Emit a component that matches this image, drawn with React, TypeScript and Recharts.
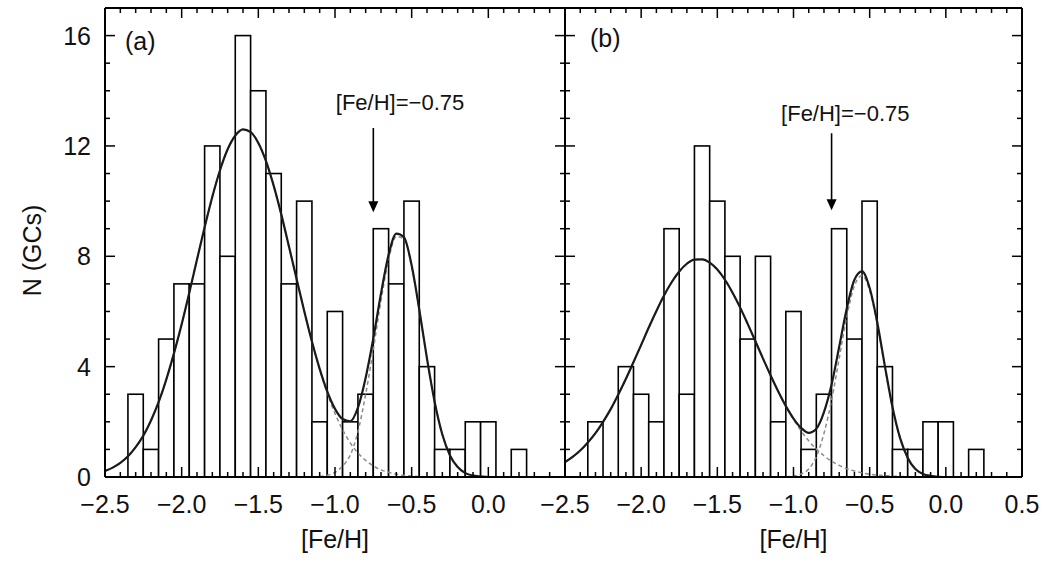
import React from 'react';
import { ComposedChart, Bar, Line, XAxis, YAxis, Label, ReferenceLine, ReferenceDot } from 'recharts';

const FONT = '"Liberation Sans", Arial, Helvetica, sans-serif';

// centres of the 0.1 dex histogram bins
const binCenters = [
  -2.3, -2.2, -2.1, -2.0, -1.9, -1.8, -1.7, -1.6, -1.5, -1.4, -1.3, -1.2, -1.1,
  -1.0, -0.9, -0.8, -0.7, -0.6, -0.5, -0.4, -0.3, -0.2, -0.1, 0.0, 0.1, 0.2,
];
const countsA = [3, 1, 5, 7, 7, 12, 8, 16, 14, 11, 7, 10, 2, 6, 2, 3, 9, 7, 10, 4, 1, 1, 2, 2, 0, 1];
const countsB = [2, 0, 4, 3, 2, 9, 3, 12, 10, 8, 5, 8, 2, 6, 1, 3, 9, 5, 10, 4, 1, 1, 2, 2, 0, 1];

// fitted curves, read every 0.05 dex
const fehGrid = [
  -2.5, -2.45, -2.4, -2.35, -2.3, -2.25, -2.2, -2.15, -2.1, -2.05,
  -2.0, -1.95, -1.9, -1.85, -1.8, -1.75, -1.7, -1.65, -1.6, -1.55,
  -1.5, -1.45, -1.4, -1.35, -1.3, -1.25, -1.2, -1.15, -1.1, -1.05,
  -1.0, -0.95, -0.9, -0.85, -0.8, -0.75, -0.7, -0.65, -0.6, -0.55,
  -0.5, -0.45, -0.4, -0.35, -0.3, -0.25, -0.2, -0.15, -0.1, -0.05,
  0.0, 0.05, 0.1, 0.15, 0.2, 0.25, 0.3, 0.35, 0.4, 0.45, 0.5,
];

const fitA = [
  0.22, 0.34, 0.51, 0.75, 1.08, 1.5, 2.05, 2.72, 3.54, 4.49,
  5.54, 6.69, 7.88, 9.06, 10.16, 11.12, 11.88, 12.38, 12.6, 12.5,
  12.11, 11.45, 10.56, 9.51, 8.35, 7.17, 6.0, 4.9, 3.92, 3.09,
  2.47, 2.1, 2.02, 2.52, 3.6, 5.03, 6.65, 8.06, 8.82, 8.69,
  7.67, 6.06, 4.29, 2.72, 1.54, 0.78, 0.36, 0.14, 0.05, 0.02,
  0, 0, 0, 0, 0, 0, 0, 0, 0, 0, 0,
];
const poorA = [
  0.22, 0.34, 0.51, 0.75, 1.08, 1.5, 2.05, 2.72, 3.54, 4.49,
  5.54, 6.69, 7.88, 9.06, 10.16, 11.12, 11.88, 12.38, 12.6, 12.5,
  12.11, 11.45, 10.56, 9.51, 8.35, 7.17, 6.0, 4.9, 3.9, 3.03,
  2.3, 1.71, 1.23, 0.87, 0.6, 0.4, 0.26, 0.17, 0.1, 0.06,
  0.04, 0.02, 0.01, 0, null, null, null, null, null, null,
  null, null, null, null, null, null, null, null, null, null, null,
];
const richA = [
  null, null, null, null, null, null, null, null, null, null,
  null, null, null, null, null, null, null, null, null, null,
  null, null, null, null, null, null, null, null, 0.02, 0.06,
  0.17, 0.4, 0.8, 1.65, 3.0, 4.63, 6.39, 7.89, 8.72, 8.63,
  7.63, 6.04, 4.28, 2.72, 1.54, 0.78, 0.36, 0.14, 0.05, 0.02,
  0, null, null, null, null, null, null, null, null, null, null,
];

const fitB = [
  0.54, 0.73, 0.96, 1.25, 1.59, 2.0, 2.46, 2.99, 3.56, 4.17,
  4.79, 5.42, 6.02, 6.58, 7.06, 7.45, 7.73, 7.88, 7.89, 7.77,
  7.52, 7.15, 6.68, 6.14, 5.54, 4.92, 4.29, 3.68, 3.1, 2.57,
  2.12, 1.78, 1.6, 1.75, 2.35, 3.35, 4.72, 6.12, 7.15, 7.45,
  6.85, 5.6, 4.02, 2.53, 1.41, 0.69, 0.29, 0.11, 0.04, 0.01,
  0, 0, 0, 0, 0, 0, 0, 0, 0, 0, 0,
];
const poorB = [
  0.54, 0.73, 0.96, 1.25, 1.59, 2.0, 2.46, 2.99, 3.56, 4.17,
  4.79, 5.42, 6.02, 6.58, 7.06, 7.45, 7.73, 7.88, 7.89, 7.77,
  7.52, 7.15, 6.68, 6.14, 5.54, 4.92, 4.29, 3.68, 3.1, 2.56,
  2.09, 1.67, 1.31, 1.01, 0.77, 0.57, 0.42, 0.3, 0.22, 0.15,
  0.1, 0.07, 0.05, 0.03, 0.02, 0.01, 0, null, null, null,
  null, null, null, null, null, null, null, null, null, null, null,
];
const richB = [
  null, null, null, null, null, null, null, null, null, null,
  null, null, null, null, null, null, null, null, null, null,
  null, null, null, null, null, null, null, null, null, 0.01,
  0.03, 0.11, 0.29, 0.74, 1.58, 2.78, 4.3, 5.82, 6.93, 7.3,
  6.75, 5.53, 3.97, 2.5, 1.39, 0.68, 0.29, 0.11, 0.04, 0.01,
  0, null, null, null, null, null, null, null, null, null, null,
];

const xTicks = [
  -2.5, -2.4, -2.3, -2.2, -2.1, -2.0, -1.9, -1.8, -1.7, -1.6, -1.5, -1.4, -1.3, -1.2, -1.1,
  -1.0, -0.9, -0.8, -0.7, -0.6, -0.5, -0.4, -0.3, -0.2, -0.1, 0.0, 0.1, 0.2, 0.3, 0.4, 0.5,
];
const yTicks = [0, 1, 2, 3, 4, 5, 6, 7, 8, 9, 10, 11, 12, 13, 14, 15, 16, 17];

const cutFeH = -0.75;
const cutText = '[Fe/H]=\u22120.75';

const X_MIN = -2.5;
const X_MAX = 0.5;
const Y_MAX = 17;
const BIN = 0.1;

function buildRows(fit: any[], poor: any[], rich: any[], counts: number[]) {
  return fehGrid.map((feh, i) => {
    const b = binCenters.findIndex((c) => Math.abs(c - feh) < 1e-6);
    return { feh, fit: fit[i], poor: poor[i], rich: rich[i], n: b >= 0 ? counts[b] : null };
  });
}

const rowsA = buildRows(fitA, poorA, richA, countsA);
const rowsB = buildRows(fitB, poorB, richB, countsB);

const isMajor = (v: number, step: number) => Math.abs(v / step - Math.round(v / step)) < 1e-6;
const fmtFeH = (v: number) => (v < -1e-9 ? '\u2212' : '') + Math.abs(v).toFixed(1);
const txt = { fontFamily: FONT, fill: '#111' };

function BottomTick(props: any) {
  const { x, y, payload, hideLabelAt } = props;
  const v = payload.value;
  const major = isMajor(v, 0.5);
  const show = major && !(hideLabelAt != null && Math.abs(v - hideLabelAt) < 1e-6);
  return (
    <g>
      <line x1={x} y1={y} x2={x} y2={y - (major ? 10 : 5)} stroke="#000" strokeWidth={1.5} />
      {show && (
        <text x={x} y={y + 36} textAnchor="middle" fontSize={25} {...txt}>
          {fmtFeH(v)}
        </text>
      )}
    </g>
  );
}

function TopTick(props: any) {
  const { x, y, payload } = props;
  const major = isMajor(payload.value, 0.5);
  return <line x1={x} y1={y} x2={x} y2={y + (major ? 10 : 5)} stroke="#000" strokeWidth={1.5} />;
}

function LeftTick(props: any) {
  const { x, y, payload, showLabels } = props;
  const v = payload.value;
  const major = isMajor(v, 4);
  return (
    <g>
      <line x1={x} y1={y} x2={x + (major ? 10 : 5)} y2={y} stroke="#000" strokeWidth={1.5} />
      {showLabels && major && v <= 16 && (
        <text x={x - 14} y={y} dy="0.36em" textAnchor="end" fontSize={25} {...txt}>
          {v}
        </text>
      )}
    </g>
  );
}

function RightTick(props: any) {
  const { x, y, payload } = props;
  const major = isMajor(payload.value, 4);
  return <line x1={x} y1={y} x2={x - (major ? 10 : 5)} y2={y} stroke="#000" strokeWidth={1.5} />;
}

const xTitle = (props: any) => {
  const { x, y, width } = props.viewBox;
  return (
    <text x={x + width / 2} y={y + 71} textAnchor="middle" fontSize={25} {...txt}>
      [Fe/H]
    </text>
  );
};

const yTitle = (props: any) => {
  const { x, y, height } = props.viewBox;
  const cx = x - 72;
  const cy = y + height / 2 + 8;
  return (
    <text x={cx} y={cy} dy="0.36em" textAnchor="middle" fontSize={25} transform={`rotate(-90 ${cx} ${cy})`} {...txt}>
      N (GCs)
    </text>
  );
};

const Arrow = (p: any) => {
  const { x1, y1, x2, y2 } = p;
  return (
    <g>
      <line x1={x1} y1={y1} x2={x2} y2={y2 - 9} stroke="#000" strokeWidth={1.6} />
      <polygon points={`${x2 - 5},${y2 - 11} ${x2 + 5},${y2 - 11} ${x2},${y2}`} fill="#000" />
    </g>
  );
};

const makeBarShape = (binPx: number) => (p: any) => {
  const n = p.payload ? p.payload.n : null;
  if (n == null || n === 0) return null;
  const cx = p.x + p.width / 2;
  return <rect x={cx - binPx / 2} y={p.y} width={binPx} height={p.height} fill="#fff" stroke="#000" strokeWidth={1.6} />;
};

interface PanelProps {
  rows: any[];
  left: number;
  width: number;
  margin: { top: number; right: number; bottom: number; left: number };
  letter: string;
  letterAt: [number, number];
  cutTextAt: [number, number];
  arrowFrom: number;
  arrowTo: number;
  showYLabels: boolean;
  hideLabelAt?: number;
}

// axes are 1px boxes so that they are drawn; the margins make up the rest
function Panel(props: PanelProps) {
  const { rows, left, width, margin, letter, letterAt, cutTextAt, arrowFrom, arrowTo, showYLabels, hideLabelAt } = props;
  const plotW = width - margin.left - margin.right - 2;
  const binPx = (plotW * BIN) / (X_MAX - X_MIN);
  const axisLine = { stroke: '#000', strokeWidth: 2 };
  return (
    <div style={{ position: 'absolute', left, top: 0 }}>
      <ComposedChart width={width} height={562} data={rows} margin={margin}>
        <XAxis
          dataKey="feh"
          type="number"
          domain={[X_MIN, X_MAX]}
          allowDataOverflow
          ticks={xTicks}
          interval={0}
          height={1}
          tickSize={0}
          tickMargin={0}
          tickLine={false}
          axisLine={axisLine}
          tick={<BottomTick hideLabelAt={hideLabelAt} />}
        >
          <Label content={xTitle} />
        </XAxis>
        <XAxis
          xAxisId="top"
          orientation="top"
          dataKey="feh"
          type="number"
          domain={[X_MIN, X_MAX]}
          allowDataOverflow
          ticks={xTicks}
          interval={0}
          height={1}
          tickSize={0}
          tickMargin={0}
          tickLine={false}
          axisLine={axisLine}
          tick={<TopTick />}
        />
        <YAxis
          type="number"
          domain={[0, Y_MAX]}
          allowDataOverflow
          ticks={yTicks}
          interval={0}
          width={1}
          tickSize={0}
          tickMargin={0}
          tickLine={false}
          axisLine={axisLine}
          tick={<LeftTick showLabels={showYLabels} />}
        >
          {showYLabels && <Label content={yTitle} />}
        </YAxis>
        <YAxis
          yAxisId="r"
          orientation="right"
          type="number"
          domain={[0, Y_MAX]}
          allowDataOverflow
          ticks={yTicks}
          interval={0}
          width={1}
          tickSize={0}
          tickMargin={0}
          tickLine={false}
          axisLine={axisLine}
          tick={<RightTick />}
        />
        <Bar dataKey="n" shape={makeBarShape(binPx)} isAnimationActive={false} />
        <Line dataKey="poor" type="monotone" stroke="#8a8a8a" strokeWidth={1.5} strokeDasharray="4 3" dot={false} activeDot={false} isAnimationActive={false} />
        <Line dataKey="rich" type="monotone" stroke="#8a8a8a" strokeWidth={1.5} strokeDasharray="4 3" dot={false} activeDot={false} isAnimationActive={false} />
        <Line dataKey="fit" type="monotone" stroke="#1a1a1a" strokeWidth={2.2} dot={false} activeDot={false} isAnimationActive={false} />
        <ReferenceLine segment={[{ x: cutFeH, y: arrowFrom }, { x: cutFeH, y: arrowTo }]} shape={Arrow} />
        <ReferenceDot
          x={cutTextAt[0]}
          y={cutTextAt[1]}
          r={0}
          shape={(p: any) => (
            <text x={p.cx} y={p.cy} dy="0.36em" textAnchor="middle" fontSize={22} {...txt}>
              {cutText}
            </text>
          )}
        />
        <ReferenceDot
          x={letterAt[0]}
          y={letterAt[1]}
          r={0}
          shape={(p: any) => (
            <text x={p.cx} y={p.cy} dy="0.36em" textAnchor="start" fontSize={25} {...txt}>
              {letter}
            </text>
          )}
        />
      </ComposedChart>
    </div>
  );
}

export default function App() {
  return (
    <div style={{ position: 'absolute', left: 0, top: 0, width: 1045, height: 562, background: '#fff' }}>
      <Panel
        rows={rowsA}
        left={0}
        width={566}
        margin={{ top: 7, right: 0, bottom: 84, left: 104 }}
        letter="(a)"
        letterAt={[-2.37, 15.8]}
        cutTextAt={[-0.576, 13.6]}
        arrowFrom={12.65}
        arrowTo={9.6}
        showYLabels
        hideLabelAt={0.5}
      />
      <Panel
        rows={rowsB}
        left={530}
        width={515}
        margin={{ top: 7, right: 22, bottom: 84, left: 34 }}
        letter="(b)"
        letterAt={[-2.336, 15.9]}
        cutTextAt={[-0.66, 13.2]}
        arrowFrom={12.46}
        arrowTo={9.67}
        showYLabels={false}
      />
    </div>
  );
}
